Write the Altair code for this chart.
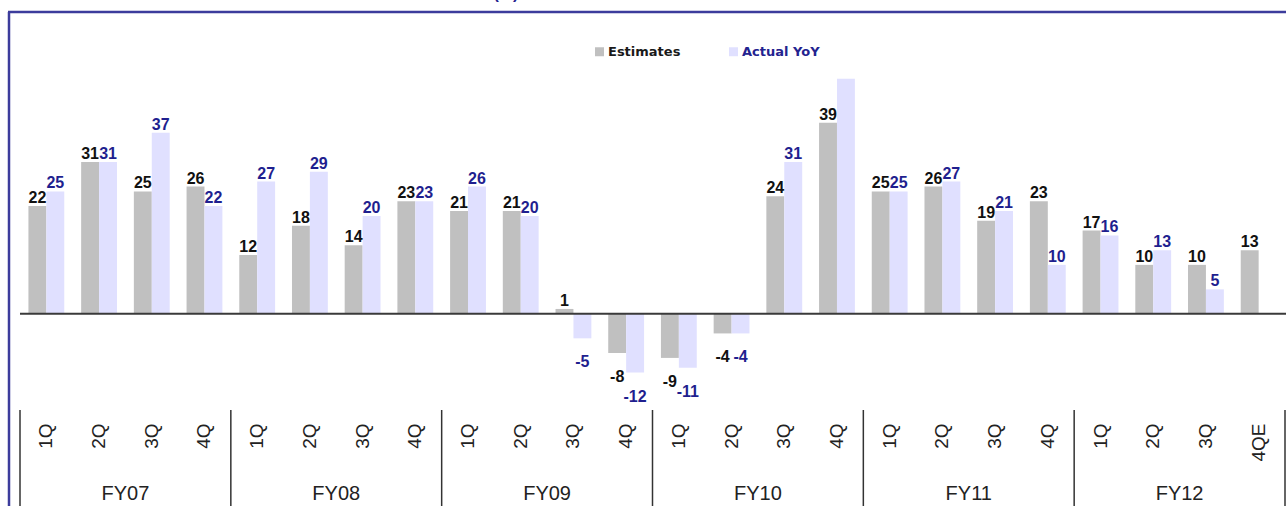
import altair as alt
import pandas as pd

# Fiscal years and quarters along the x axis (last quarter is an estimate)
years = ["FY07", "FY08", "FY09", "FY10", "FY11", "FY12"]
quarter_names = ["1Q", "2Q", "3Q", "4Q"]
last_quarter_name = "4QE"

series = ["Estimates", "Actual YoY"]

# YoY growth (%) per quarter
estimates = [22, 31, 25, 26, 12, 18, 14, 23, 21, 21, 1, -8,
             -9, -4, 24, 39, 25, 26, 19, 23, 17, 10, 10, 13]
actual = [25, 31, 37, 22, 27, 29, 20, 23, 26, 20, -5, -12,
          -11, -4, 31, 48, 25, 27, 21, 10, 16, 13, 5, None]

# bars whose value is not printed
unlabelled = [("FY10|4Q", "Actual YoY")]

title_text = "(%)"

# ---- layout -------------------------------------------------------------
PAD_L, PAD_T = 20, 20
W, H = 1265, 382
STEP = W / 24.0
GAP = 0.16 * STEP  # half of the inner band padding

periods = []
for y in years:
    for q in quarter_names:
        periods.append(f"{y}|{q}")
periods[-1] = f"{years[-1]}|{last_quarter_name}"

rows = []
for i, p in enumerate(periods):
    for s, vals in zip(series, [estimates, actual]):
        v = vals[i]
        rows.append({"period": p, "series": s, "value": v,
                     "label": "" if v is None else str(v),
                     "show": (p, s) not in unlabelled})
df = pd.DataFrame(rows)

group_starts = pd.DataFrame({"period": [f"{y}|1Q" for y in years]})
group_end = pd.DataFrame({"period": [periods[-1]]})
group_mid = pd.DataFrame({"period": [f"{y}|2Q" for y in years], "year": years})

XSCALE = alt.Scale(paddingInner=0.32, paddingOuter=0.16)
XAXIS = alt.Axis(title=None, labelExpr="split(datum.value, '|')[1]",
                 labelAngle=270, labelAlign="right", labelBaseline="middle",
                 labelPadding=21, ticks=False, tickSize=0, domain=False,
                 grid=False, labelFont="Liberation Sans", labelFontSize=19,
                 labelColor="#222222")


def xenc(**kw):
    return alt.X("period:N", sort=periods, scale=XSCALE, axis=XAXIS, **kw)


YSCALE = alt.Scale(domain=[-18, 60], nice=False, zero=False)
xoff = alt.XOffset("series:N", sort=series,
                   scale=alt.Scale(domain=series, paddingInner=0, paddingOuter=0))

label_font = "Liberation Sans"
label_color = alt.condition(alt.datum.series == "Estimates",
                            alt.value("#111111"), alt.value("#1f1f8f"))

base = alt.Chart(df)

bars = base.mark_bar().encode(
    x=xenc(),
    xOffset=xoff,
    y=alt.Y("value:Q", scale=YSCALE, axis=None),
    color=alt.Color(
        "series:N", sort=series,
        scale=alt.Scale(domain=series, range=["#C0C0C0", "#E0E0FF"]),
        legend=alt.Legend(
            title=None, orient="none", legendX=573, legendY=25,
            direction="horizontal", symbolType="square", symbolSize=81,
            symbolStrokeWidth=0, labelFont="DejaVu Sans", labelFontSize=13,
            labelFontWeight="bold", labelOffset=2, columnPadding=46,
            labelColor=alt.ExprRef(
                expr="datum.value == 'Actual YoY' ? '#23238f' : '#1a1a1a'"),
        ),
    ),
)

pos_labels = base.transform_filter(
    "isValid(datum.value) && datum.value >= 0 && datum.show"
).mark_text(baseline="alphabetic", dy=-3, font=label_font, fontSize=16,
            fontWeight="bold").encode(
    x=xenc(), xOffset=xoff,
    y=alt.Y("value:Q", scale=YSCALE, axis=None),
    text=alt.Text("label:N"),
    color=label_color,
)

neg_labels = base.transform_filter(
    "isValid(datum.value) && datum.value < 0 && datum.show"
).mark_text(baseline="top", dy=16, font=label_font, fontSize=16,
            fontWeight="bold").encode(
    x=xenc(), xOffset=xoff,
    y=alt.Y("value:Q", scale=YSCALE, axis=None),
    text=alt.Text("label:N"),
    color=label_color,
)

zero_line = alt.Chart(pd.DataFrame({"z": [0]})).mark_rule(
    color="#3a3a3a", strokeWidth=2
).encode(y=alt.Y("z:Q", scale=YSCALE, axis=None),
         x=alt.value(0), x2=alt.value(W + 4))

sep_start = alt.Chart(group_starts).mark_rule(
    color="#333333", strokeWidth=1.5, xOffset=-GAP
).encode(x=xenc(bandPosition=0), y=alt.value(H + 8), y2=alt.value(H + 110))

sep_end = alt.Chart(group_end).mark_rule(
    color="#333333", strokeWidth=1.5, xOffset=GAP
).encode(x=xenc(bandPosition=1), y=alt.value(H + 8), y2=alt.value(H + 110))

year_labels = alt.Chart(group_mid).mark_text(
    xOffset=GAP, baseline="alphabetic", align="center",
    font="Liberation Sans", fontSize=20, color="#222222"
).encode(x=xenc(bandPosition=1), y=alt.value(H + 98), text="year:N")

frame_top = alt.Chart(pd.DataFrame({"a": [0]})).mark_rule(
    color="#3c3c9c", strokeWidth=2.5
).encode(x=alt.value(-PAD_L + 8), x2=alt.value(W + 40), y=alt.value(-8))

frame_left = alt.Chart(pd.DataFrame({"a": [0]})).mark_rule(
    color="#3c3c9c", strokeWidth=2.5
).encode(x=alt.value(-PAD_L + 9), y=alt.value(-8), y2=alt.value(H + 130))

title_mark = alt.Chart(pd.DataFrame({"t": [title_text]})).mark_text(
    baseline="alphabetic", align="center", font="Liberation Sans",
    fontSize=16, fontWeight="bold", color="#1f1f8f"
).encode(x=alt.value(506 - PAD_L), y=alt.value(-PAD_T - 1), text="t:N")

chart = alt.layer(
    frame_top, frame_left, title_mark, bars, zero_line, pos_labels,
    neg_labels, sep_start, sep_end, year_labels
).properties(
    width=W, height=H,
    autosize=alt.AutoSizeParams(type="none"),
    padding={"left": PAD_L, "top": PAD_T, "right": 1, "bottom": 104},
    background="white",
).configure_view(stroke=None)

chart.save("out.html", embed_options={"renderer": "svg", "actions": False})
